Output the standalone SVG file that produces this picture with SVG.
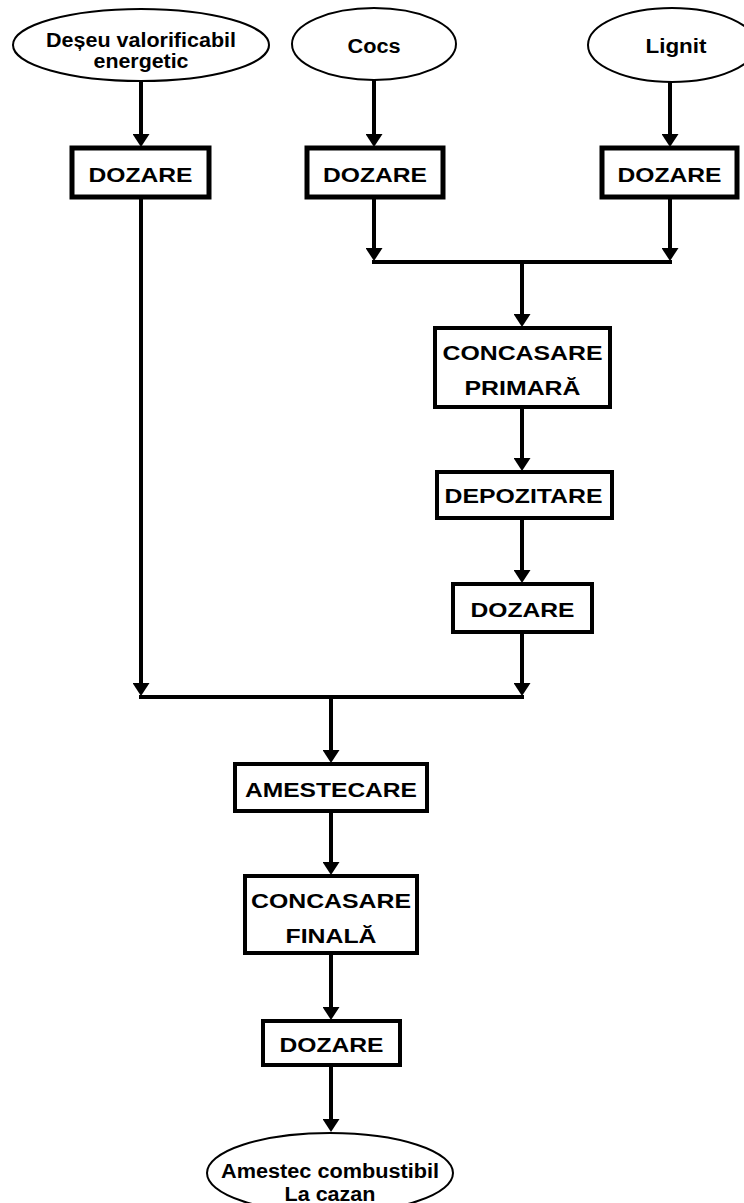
<svg xmlns="http://www.w3.org/2000/svg" width="744" height="1203" viewBox="0 0 744 1203">
<style>
.bg{fill:#ffffff}
.ell{fill:#ffffff;stroke:#000000;stroke-width:2}
.box{fill:#ffffff;stroke:#000000;stroke-width:4}
.boxt{fill:#ffffff;stroke:#000000;stroke-width:5}
.lbl{font-family:"Liberation Sans",Arial,sans-serif;font-weight:bold;font-size:21px;fill:#000000;text-anchor:middle}
.elbl{font-family:"Liberation Sans",Arial,sans-serif;font-weight:bold;font-size:20px;fill:#000000;text-anchor:middle}
.ln{fill:none;stroke:#000000;stroke-width:4}
.arr{fill:none;stroke:#000000;stroke-width:4;marker-end:url(#ah)}
</style>
<defs>
<marker id="ah" viewBox="0 0 13 17" refX="4" refY="8.5" markerWidth="13" markerHeight="17" markerUnits="userSpaceOnUse" orient="auto">
<path d="M0,0 L13,8.5 L0,17 z" fill="#000000"/>
</marker>
</defs>
<rect class="bg" x="0" y="0" width="744" height="1203"/>
<g id="connectors">
<line class="arr" x1="141" y1="81" x2="141" y2="138"/>
<line class="arr" x1="374" y1="80" x2="374" y2="138"/>
<line class="arr" x1="670" y1="82" x2="670" y2="138"/>
<line class="arr" x1="374" y1="197" x2="374" y2="252"/>
<line class="arr" x1="670" y1="197" x2="670" y2="252"/>
<line class="ln" x1="372" y1="262" x2="672" y2="262"/>
<line class="arr" x1="522" y1="262" x2="522" y2="318"/>
<line class="arr" x1="522" y1="407" x2="522" y2="462"/>
<line class="arr" x1="522" y1="518" x2="522" y2="574"/>
<line class="arr" x1="141" y1="197" x2="141" y2="687"/>
<line class="arr" x1="522" y1="632" x2="522" y2="687"/>
<line class="ln" x1="139" y1="697" x2="524" y2="697"/>
<line class="arr" x1="331" y1="697" x2="331" y2="754"/>
<line class="arr" x1="331" y1="811" x2="331" y2="866"/>
<line class="arr" x1="331" y1="953" x2="331" y2="1011"/>
<line class="arr" x1="331" y1="1065" x2="331" y2="1123"/>
</g>
<g id="n-deseu">
<ellipse class="ell" cx="141" cy="45" rx="128" ry="36"/>
<text class="elbl" x="141" y="47" textLength="190" lengthAdjust="spacingAndGlyphs">Deșeu valorificabil</text>
<text class="elbl" x="141" y="68" textLength="95" lengthAdjust="spacingAndGlyphs">energetic</text>
</g>
<g id="n-cocs">
<ellipse class="ell" cx="374" cy="44" rx="82" ry="36"/>
<text class="elbl" x="374" y="53" textLength="53" lengthAdjust="spacingAndGlyphs">Cocs</text>
</g>
<g id="n-lignit">
<ellipse class="ell" cx="672" cy="45" rx="84" ry="37"/>
<text class="elbl" x="676" y="53" textLength="61" lengthAdjust="spacingAndGlyphs">Lignit</text>
</g>
<g id="n-dozare1">
<rect class="boxt" x="72" y="148" width="137" height="49"/>
<text class="lbl" x="140.5" y="182" textLength="104" lengthAdjust="spacingAndGlyphs">DOZARE</text>
</g>
<g id="n-dozare2">
<rect class="boxt" x="307" y="148" width="136" height="49"/>
<text class="lbl" x="375" y="182" textLength="104" lengthAdjust="spacingAndGlyphs">DOZARE</text>
</g>
<g id="n-dozare3">
<rect class="boxt" x="602" y="148" width="135" height="49"/>
<text class="lbl" x="669.5" y="182" textLength="104" lengthAdjust="spacingAndGlyphs">DOZARE</text>
</g>
<g id="n-concasare-primara">
<rect class="box" x="435" y="328" width="175" height="79"/>
<text class="lbl" x="522.5" y="360" textLength="160" lengthAdjust="spacingAndGlyphs">CONCASARE</text>
<text class="lbl" x="522.5" y="395" textLength="116" lengthAdjust="spacingAndGlyphs">PRIMARĂ</text>
</g>
<g id="n-depozitare">
<rect class="box" x="437" y="472" width="175" height="46"/>
<text class="lbl" x="523.5" y="503" textLength="158" lengthAdjust="spacingAndGlyphs">DEPOZITARE</text>
</g>
<g id="n-dozare4">
<rect class="box" x="453" y="584" width="139" height="48"/>
<text class="lbl" x="522.5" y="617" textLength="104" lengthAdjust="spacingAndGlyphs">DOZARE</text>
</g>
<g id="n-amestecare">
<rect class="box" x="235" y="764" width="192" height="47"/>
<text class="lbl" x="331" y="797" textLength="172" lengthAdjust="spacingAndGlyphs">AMESTECARE</text>
</g>
<g id="n-concasare-finala">
<rect class="box" x="245" y="876" width="172" height="77"/>
<text class="lbl" x="331" y="908" textLength="160" lengthAdjust="spacingAndGlyphs">CONCASARE</text>
<text class="lbl" x="331" y="943" textLength="91" lengthAdjust="spacingAndGlyphs">FINALĂ</text>
</g>
<g id="n-dozare5">
<rect class="box" x="263" y="1021" width="137" height="44"/>
<text class="lbl" x="331.5" y="1052" textLength="104" lengthAdjust="spacingAndGlyphs">DOZARE</text>
</g>
<g id="n-amestec">
<ellipse class="ell" cx="330" cy="1173" rx="123" ry="40"/>
<text class="elbl" x="330" y="1178" textLength="218" lengthAdjust="spacingAndGlyphs">Amestec combustibil</text>
<text class="elbl" x="330" y="1201" textLength="91" lengthAdjust="spacingAndGlyphs">La cazan</text>
</g>
</svg>
